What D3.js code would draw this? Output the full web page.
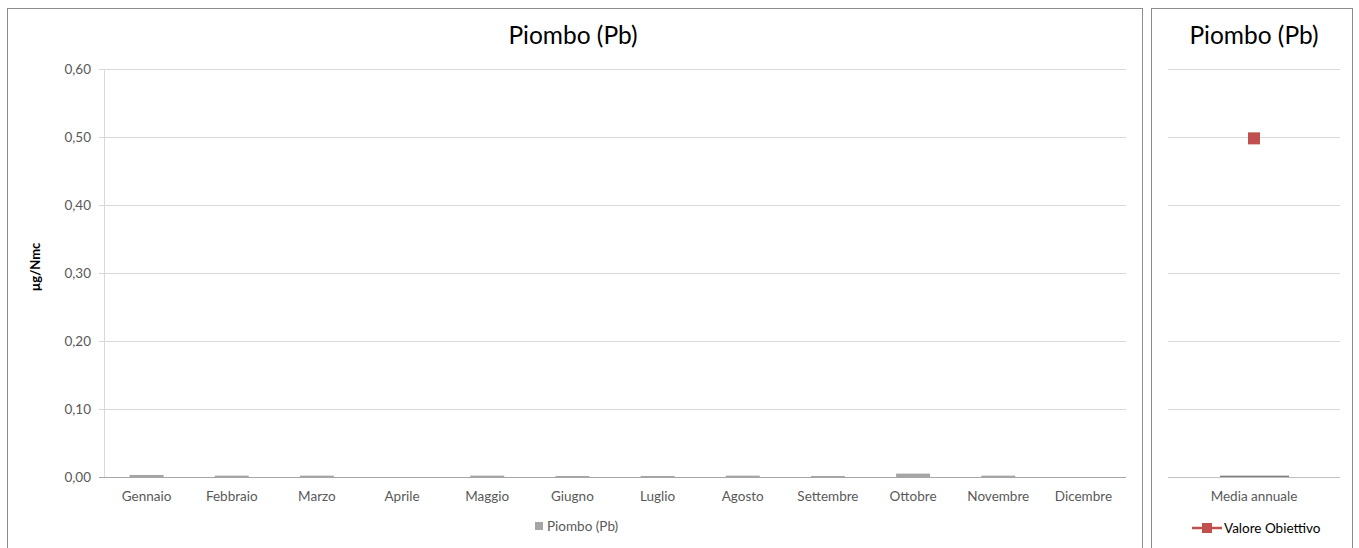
<!DOCTYPE html>
<html><head><meta charset="utf-8">
<script src="https://cdn.jsdelivr.net/npm/d3@7"></script>
<style>body{margin:0;background:#fff}svg{display:block;font-family:Lato,"Open Sans",sans-serif}</style>
</head><body><svg id="c" width="1359" height="548"></svg>
<script>
const months = ["Gennaio","Febbraio","Marzo","Aprile","Maggio","Giugno","Luglio","Agosto","Settembre","Ottobre","Novembre","Dicembre"];
const piombo = [0.003,0.002,0.002,0,0.002,0.0015,0.0015,0.002,0.0015,0.005,0.002,0];
const annualCat = ["Media annuale"];
const annualMean = [0.002];
const target = [0.498];
const yTicks = [0,0.1,0.2,0.3,0.4,0.5,0.6];
const title = "Piombo (Pb)";
const yLabel = "µg/Nmc";
const seriesName = "Piombo (Pb)";
const targetName = "Valore Obiettivo";

const svg = d3.select("#c");
const fmt = v => d3.format(".2f")(v).replace(".", ",");
const barColor = "#a5a5a5", gridColor = "#d9d9d9", textColor = "#595959", markColor = "#c0504d";

// panel frames
svg.append("rect").attr("x",7.5).attr("y",8.5).attr("width",1135).attr("height",560).attr("fill","none").attr("stroke","#8c8c8c");
svg.append("rect").attr("x",1151.5).attr("y",8.5).attr("width",201).attr("height",560).attr("fill","none").attr("stroke","#8c8c8c");

const y = d3.scaleLinear().domain([0,0.6]).range([477,69]);

// ---- left panel
const xb = d3.scaleBand().domain(months).range([104,1126]);
const gl = svg.append("g");
gl.selectAll("line.grid").data(yTicks.filter(d=>d>0)).join("line")
  .attr("x1",99).attr("x2",1126).attr("y1",d=>Math.round(y(d))+0.5).attr("y2",d=>Math.round(y(d))+0.5)
  .attr("stroke",gridColor);
gl.append("line").attr("x1",104.5).attr("x2",104.5).attr("y1",69).attr("y2",477).attr("stroke",gridColor);
gl.selectAll("text.yt").data(yTicks).join("text")
  .attr("x",91).attr("y",d=>y(d)).attr("dy","0.35em").attr("text-anchor","end")
  .attr("font-size",13.5).attr("fill",textColor).text(fmt);
gl.selectAll("rect.bar").data(months).join("rect")
  .attr("x",d=>xb(d)+xb.bandwidth()/2-17).attr("width",34)
  .attr("y",(d,i)=>y(piombo[i])).attr("height",(d,i)=>477-y(piombo[i]))
  .attr("fill",barColor);
gl.append("line").attr("x1",99).attr("x2",1126).attr("y1",477.5).attr("y2",477.5).attr("stroke","#a6a6a6");
gl.selectAll("text.xt").data(months).join("text")
  .attr("x",d=>xb(d)+xb.bandwidth()/2).attr("y",501).attr("text-anchor","middle")
  .attr("font-size",13.5).attr("fill",textColor).text(d=>d);
gl.append("text").attr("x",573).attr("y",44).attr("text-anchor","middle").attr("font-size",24.5).attr("fill","#000").text(title);
gl.append("text").attr("transform","translate(40,267) rotate(-90)").attr("text-anchor","middle")
  .attr("font-size",13).attr("font-weight","bold").attr("fill","#000").text(yLabel);
gl.append("rect").attr("x",535).attr("y",522).attr("width",8).attr("height",8).attr("fill",barColor);
gl.append("text").attr("x",547).attr("y",531).attr("font-size",13.5).attr("fill",textColor).text(seriesName);

// ---- right panel
const xr = d3.scaleBand().domain(annualCat).range([1168,1340]);
const gr = svg.append("g");
gr.selectAll("line.grid").data(yTicks.filter(d=>d>0)).join("line")
  .attr("x1",1168).attr("x2",1340).attr("y1",d=>Math.round(y(d))+0.5).attr("y2",d=>Math.round(y(d))+0.5)
  .attr("stroke",gridColor);
gr.selectAll("rect.bar").data(annualCat).join("rect")
  .attr("x",d=>xr(d)+xr.bandwidth()/2-34).attr("width",69)
  .attr("y",(d,i)=>y(annualMean[i])).attr("height",(d,i)=>477-y(annualMean[i]))
  .attr("fill","#7f7f7f");
gr.append("line").attr("x1",1168).attr("x2",1340).attr("y1",477.5).attr("y2",477.5).attr("stroke","#bfbfbf");
gr.selectAll("rect.mark").data(annualCat).join("rect")
  .attr("x",d=>xr(d)+xr.bandwidth()/2-6).attr("y",(d,i)=>y(target[i])-6).attr("width",12).attr("height",12)
  .attr("fill",markColor);
gr.selectAll("text.xt").data(annualCat).join("text")
  .attr("x",d=>xr(d)+xr.bandwidth()/2).attr("y",501).attr("text-anchor","middle")
  .attr("font-size",13.5).attr("fill",textColor).text(d=>d);
gr.append("text").attr("x",1254).attr("y",44).attr("text-anchor","middle").attr("font-size",24.5).attr("fill","#000").text(title);
gr.append("line").attr("x1",1192).attr("x2",1222).attr("y1",528).attr("y2",528).attr("stroke",markColor).attr("stroke-width",2.5);
gr.append("rect").attr("x",1202).attr("y",523).attr("width",10).attr("height",10).attr("fill",markColor);
gr.append("text").attr("x",1224).attr("y",533).attr("font-size",13.5).attr("fill","#000").text(targetName);
</script></body></html>
